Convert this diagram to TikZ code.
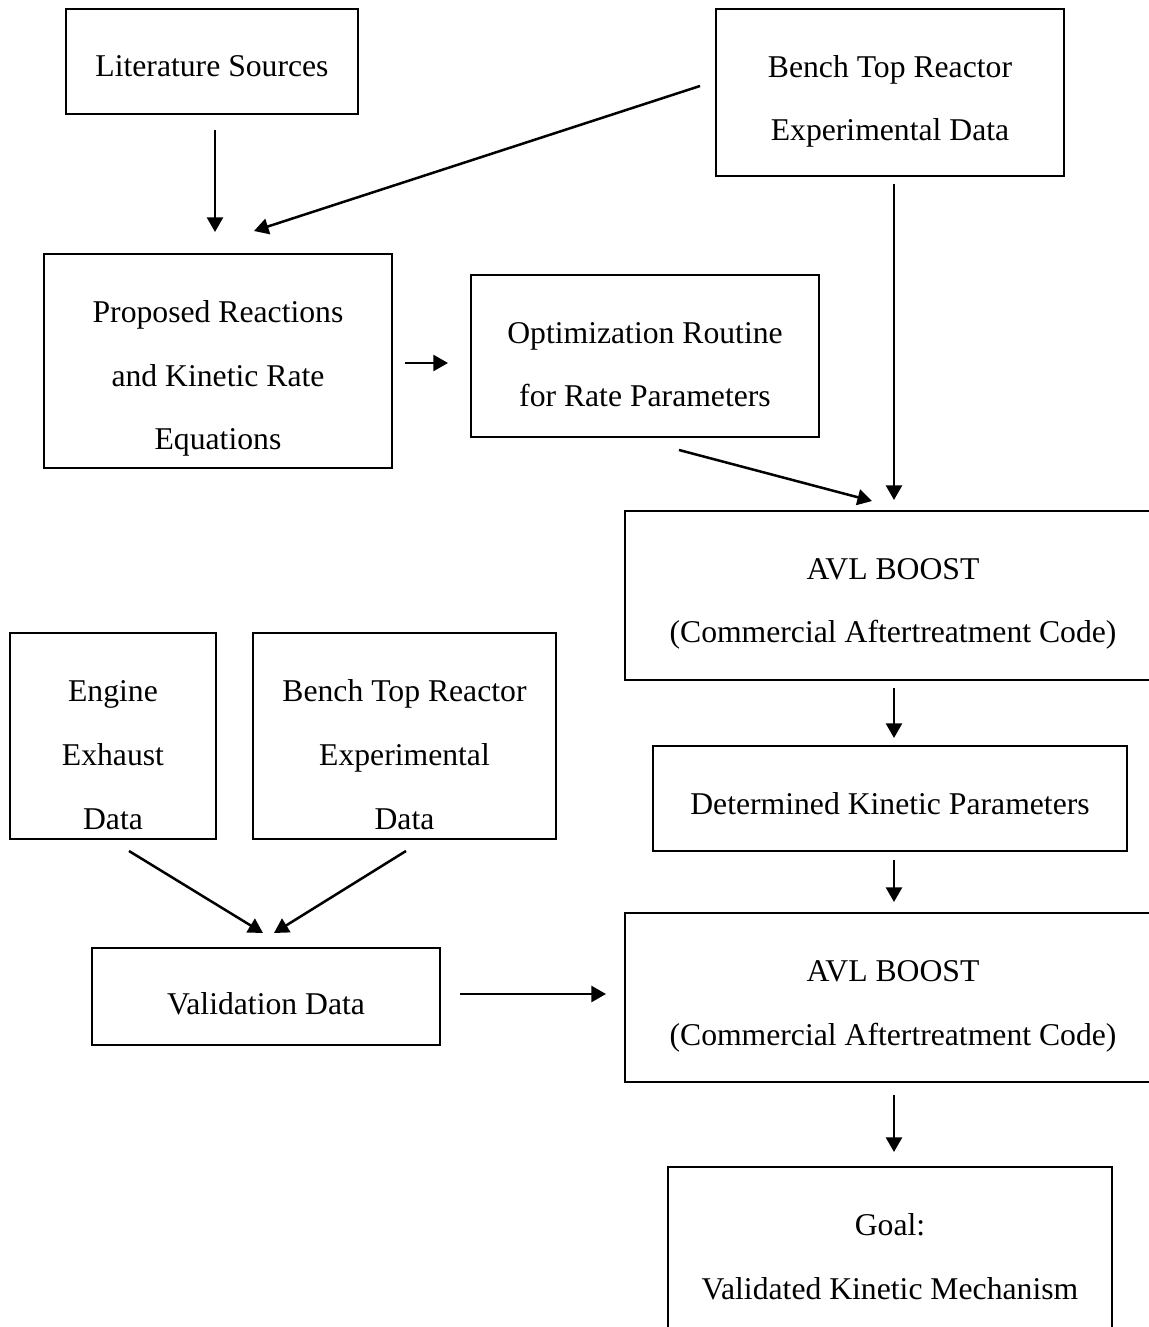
\documentclass[tikz,border=0pt]{standalone}
\usepackage{fontspec}
\setmainfont{Liberation Serif}
\usetikzlibrary{arrows.meta,calc}
\def\u{0.3788pt}
\tikzset{
  blk/.style={draw, line width=0.75pt, inner sep=0pt, anchor=north west, align=center,
    font=\fontsize{12pt}{24.24pt}\selectfont},
  arr/.style={-{Triangle[length=5.5pt,width=6pt]}, line width=0.95pt}
}
\begin{document}
\begin{tikzpicture}[x=\u, y=-\u]
    \useasboundingbox (0,0) rectangle (1149,1327);
    \node[blk, minimum width=292*\u, text height=68*\u, text depth=37*\u] (lit) at (65,8) {Literature Sources};
    \node[blk, minimum width=348*\u, text height=132*\u, text depth=35*\u] (bench) at (715,8) {Bench Top Reactor\\Experimental Data};
    \node[blk, minimum width=348*\u, text height=196*\u, text depth=18*\u] (rxn) at (43,253) {Proposed Reactions\\and Kinetic Rate\\Equations};
    \node[blk, minimum width=348*\u, text height=132*\u, text depth=30*\u] (opt) at (470,274) {Optimization Routine\\for Rate Parameters};
    \node[blk, minimum width=536*\u, text height=132*\u, text depth=37*\u] (boost) at (624,510) {AVL BOOST\\(Commercial Aftertreatment Code)};
    \node[blk, minimum width=206*\u, text height=196*\u, text depth=10*\u] (engine) at (9,632) {Engine\\Exhaust\\Data};
    \node[blk, minimum width=303*\u, text height=196*\u, text depth=10*\u] (bench2) at (252,632) {Bench Top Reactor\\Experimental\\Data};
    \node[blk, minimum width=474*\u, text height=68*\u, text depth=37*\u] (kin) at (652,745) {Determined Kinetic Parameters};
    \node[blk, minimum width=348*\u, text height=66*\u, text depth=31*\u] (valid) at (91,947) {Validation Data};
    \node[blk, minimum width=536*\u, text height=132*\u, text depth=37*\u] (boost2) at (624,912) {AVL BOOST\\(Commercial Aftertreatment Code)};
    \node[blk, minimum width=444*\u, text height=132*\u, text depth=88*\u] (goal) at (667,1166) {Goal:\\Validated Kinetic Mechanism};

    \draw[arr] ($(lit.south)+(3,15)$) -- ($(rxn.north)+(-3,-21)$);
    \draw[arr] ($(bench.west)+(-15,-6.5)$) -- ($(rxn.north)+(36,-22)$);
    \draw[arr] ($(bench.south)+(4,7)$) -- ($(boost.north)+(1,-10)$);
    \draw[arr] ($(rxn.east)+(12,2)$) -- ($(opt.west)+(-22,7)$);
    \draw[arr] ($(opt.south)+(34,12)$) -- ($(boost.north)+(-21,-9)$);
    \draw[arr] ($(boost.south)+(1,7)$) -- ($(kin.north)+(4,-7)$);
    \draw[arr] ($(kin.south)+(4,8)$) -- ($(boost2.north)+(1,-10)$);
    \draw[arr] ($(engine.south)+(16,11)$) -- ($(valid.north)+(-3,-14)$);
    \draw[arr] ($(bench2.south)+(1.5,11)$) -- ($(valid.north)+(8,-14)$);
    \draw[arr] ($(valid.east)+(19,-2.5)$) -- ($(boost2.west)+(-18,-3.5)$);
    \draw[arr] ($(boost2.south)+(1,12)$) -- ($(goal.north)+(4,-14)$);
\end{tikzpicture}
\end{document}
